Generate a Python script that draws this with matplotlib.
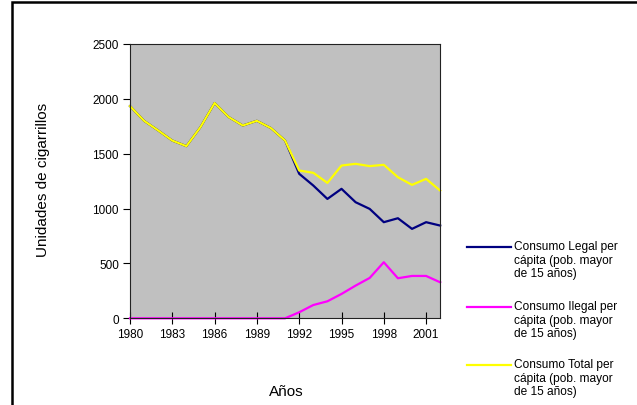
import matplotlib
matplotlib.use("Agg")
import matplotlib.pyplot as plt
from matplotlib.lines import Line2D
from matplotlib.patches import Rectangle

plt.rcParams['font.family'] = ['Liberation Sans', 'DejaVu Sans']

years = list(range(1980, 2003))
legal = [1934, 1800, 1712, 1620, 1569, 1743, 1962, 1834, 1757, 1800, 1733, 1620,
         1317, 1210, 1088, 1180, 1058, 997, 876, 912, 815, 876, 845]
ilegal = [0, 0, 0, 0, 0, 0, 0, 0, 0, 0, 0, 0,
          55, 121, 155, 222, 298, 368, 511, 365, 386, 386, 328]
total = [1934, 1800, 1712, 1620, 1569, 1743, 1962, 1834, 1757, 1800, 1733, 1620,
         1347, 1326, 1234, 1392, 1408, 1387, 1399, 1286, 1216, 1271, 1164]
xticks = [1980, 1983, 1986, 1989, 1992, 1995, 1998, 2001]
yticks = [0, 500, 1000, 1500, 2000, 2500]
labels = ["Consumo Legal per\ncápita (pob. mayor\nde 15 años)",
          "Consumo Ilegal per\ncápita (pob. mayor\nde 15 años)",
          "Consumo Total per\ncápita (pob. mayor\nde 15 años)"]
colors = ["#000080", "#FF00FF", "#FFFF00"]

W, H = 637, 406
fig = plt.figure(figsize=(W / 100, H / 100), dpi=100)
ax = fig.add_axes([130 / W, 1 - 319.3 / H, (440.2 - 130) / W, (319.3 - 45) / H])
ax.set_facecolor("#C0C0C0")

for series, c in zip([legal, ilegal, total], colors):
    ax.plot(years, series, color=c, lw=1.6, solid_joinstyle='round', clip_on=False)

ax.set_xlim(1980, 2002)
ax.set_ylim(0, 2500)
ax.set_xticks(xticks)
ax.set_xticklabels([str(x) for x in xticks])
ax.set_yticks(yticks)
ax.tick_params(axis='x', direction='inout', length=8, width=0.8, labelsize=8.5, pad=3)
ax.tick_params(axis='y', direction='out', length=5, width=0.8, labelsize=8.5, pad=3)
for s in ax.spines.values():
    s.set_linewidth(0.8)
    s.set_color("#222222")

fig.text(43 / W, 1 - 180 / H, "Unidades de cigarrillos", rotation=90,
         ha='center', va='center', fontsize=11)
fig.text(286 / W, 1 - 392 / H, "Años", ha='center', va='center', fontsize=11)

# legend
ys = [248, 308, 366]
for y, c, lab in zip(ys, colors, labels):
    fig.add_artist(Line2D([467 / W, 511 / W], [1 - y / H, 1 - y / H], color=c, lw=1.6))
    fig.text(514 / W, 1 - (y - 6.5) / H, lab, ha='left', va='top', fontsize=8.6,
             linespacing=1.12)

# outer frame (right and bottom edges lie outside the image)
fig.add_artist(Rectangle((11.5 / W, -0.05), 1.2, 1 - 2.5 / H + 0.05, transform=fig.transFigure,
                         fill=False, edgecolor='black', lw=1.8, clip_on=False))

fig.savefig("out.png", dpi=100)
